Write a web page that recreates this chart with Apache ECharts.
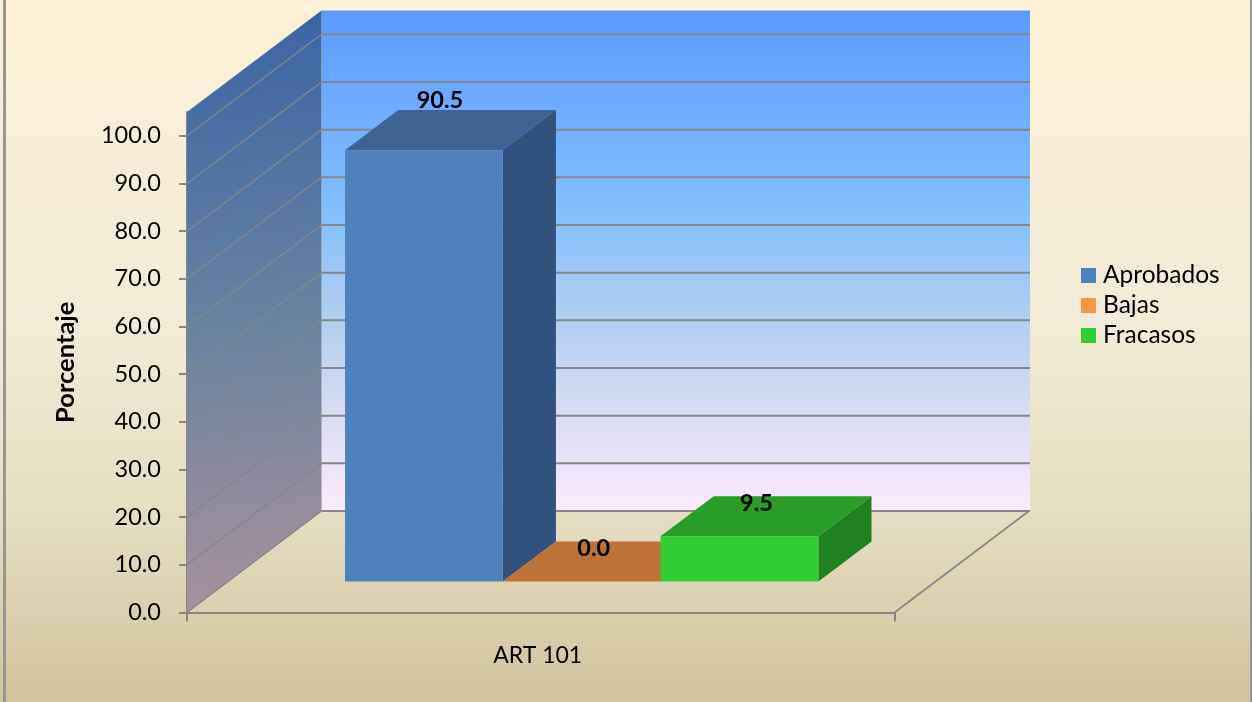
<!DOCTYPE html>
<html><head><meta charset="utf-8">
<style>html,body{margin:0;padding:0;background:#fff}#c{width:1252px;height:702px}</style>
<script src="https://cdn.jsdelivr.net/npm/echarts@6/dist/echarts.min.js"></script>
</head><body><div id="c"></div>
<script>
const categories = ['ART 101'];
const seriesNames = ['Aprobados', 'Bajas', 'Fracasos'];
const aprobados = [90.5];
const bajas = [0.0];
const fracasos = [9.5];
const yTicks = [0, 10, 20, 30, 40, 50, 60, 70, 80, 90, 100];
const wallTop = 105;

const GRID = '#868686', FONT = 'Lato';
const DX = 134.5, DY = -101.5;           // full floor depth in pixels
const BAR_NEAR = 0.305, BAR_FAR = 0.7;   // depth span of the bars
const GAP = 0.1654, SLOT = 0.223;        // bar slots on the hidden 0..1 x axis
const faces = [
  {front: '#4f81bd', side: '#30527c', top: '#3d6494', legend: '#4f81bd', lx: 16, ly: 49.5},
  {front: '#f79646', side: '#b96f33', top: '#bd7337', legend: '#f79646', lx: 12, ly: 33.5},
  {front: '#32cd32', side: '#20821f', top: '#289d28', legend: '#32cd32', lx: 17, ly: 32.5}
];
const shift = (p, d) => [p[0] + DX * d, p[1] + DY * d];
const poly = (points, fill) => ({type: 'polygon', shape: {points}, style: {fill}});
const line = (a, b, w) => ({type: 'line', shape: {x1: a[0], y1: a[1], x2: b[0], y2: b[1]},
  style: {stroke: GRID, lineWidth: w}});

function renderWalls(params, api) {
  const c = (x, y) => api.coord([x, y]);
  const fl = c(0, 0), tl = c(0, wallTop), fr = c(1, 0);
  const children = [
    {type: 'polygon', shape: {points: [shift(tl, 1), [shift(fr, 1)[0] + 1, shift(tl, 1)[1]], [shift(fr, 1)[0] + 1, shift(fr, 1)[1]], shift(fl, 1)]},
      style: {fill: {type: 'linear', x: 0, y: 0, x2: 0, y2: 1, colorStops: [
        {offset: 0, color: '#5b9bff'}, {offset: 0.4, color: '#82bfff'},
        {offset: 0.6, color: '#afcdf0'}, {offset: 0.8, color: '#d8dcf2'}, {offset: 1, color: '#fceafe'}]}}},
    {type: 'polygon', shape: {points: [tl, shift(tl, 1), shift(fl, 1), fl]},
      style: {fill: {type: 'linear', x: 0, y: 0, x2: 0.45, y2: 1, colorStops: [
        {offset: 0, color: '#3a63a6'}, {offset: 0.5, color: '#66829f'}, {offset: 1, color: '#a8919d'}]}}}
  ];
  yTicks.forEach(v => {
    const p = c(0, v), b = shift(p, 1);
    children.push(line(p, b, 1.3));
    if (v > 0) children.push(line(b, [shift(fr, 1)[0] + 1, b[1]], 2));
  });
  children.push(line(shift(fl, 1), [shift(fr, 1)[0] + 1, shift(fl, 1)[1]], 2));
  children.push(line(fr, shift(fr, 1), 1.6));
  return {type: 'group', children};
}

function renderBar(idx) {
  return function (params, api) {
    const v = api.value(1), x0 = GAP + SLOT * idx, x1 = x0 + SLOT, f = faces[idx];
    const a = shift(api.coord([x0, 0]), BAR_NEAR), b = shift(api.coord([x1, 0]), BAR_NEAR);
    const d = shift(api.coord([x0, v]), BAR_NEAR), e = shift(api.coord([x1, v]), BAR_NEAR);
    const span = BAR_FAR - BAR_NEAR;
    const children = [
      poly([b, e, shift(e, span), shift(b, span)], f.side),
      poly([d, e, shift(e, span), shift(d, span)], f.top),
      poly([a, b, e, d], f.front),
      {type: 'text', z2: 50, style: {text: v.toFixed(1), x: (d[0] + e[0]) / 2 + f.lx, y: d[1] - f.ly,
        align: 'center', verticalAlign: 'middle', font: 'bold 23.5px ' + FONT, fill: '#000'}}
    ];
    return {type: 'group', children};
  };
}

const barSeries = [aprobados, bajas, fracasos].map((vals, i) => ({
  name: seriesNames[i], type: 'custom', xAxisIndex: 1, yAxisIndex: 0, z: 10 + (i === 1 ? 0 : i),
  encode: {x: 0, y: 1}, renderItem: renderBar(i), silent: true,
  itemStyle: {color: faces[i].legend},
  data: vals.map(v => [GAP + SLOT * (i + 0.5), v])
}));

const chart = echarts.init(document.getElementById('c'), null, {renderer: 'canvas'});
chart.setOption({
  animation: false,
  backgroundColor: {type: 'linear', x: 0, y: 0, x2: 0, y2: 1, colorStops: [
    {offset: 0, color: '#fcf0d7'}, {offset: 0.45, color: '#f3ebd7'},
    {offset: 0.72, color: '#e6dfc3'}, {offset: 1, color: '#d1c39d'}]},
  grid: {left: 187, top: 112, width: 707.5, height: 500.5},
  legend: {data: seriesNames, left: 1076, top: 257, orient: 'vertical', icon: 'rect',
    itemWidth: 15, itemHeight: 15, itemGap: 3,
    textStyle: {fontFamily: FONT, fontSize: 24.5, color: '#000', padding: [0, 0, 0, 2], height: 27, lineHeight: 27}},
  xAxis: [
    {type: 'category', data: categories, position: 'bottom',
      axisLine: {lineStyle: {color: GRID, width: 2}},
      axisTick: {show: true, length: 9, lineStyle: {color: GRID, width: 2}},
      axisLabel: {fontFamily: FONT, fontSize: 23, color: '#000', margin: 32, padding: [0, 6, 0, 0]}},
    {type: 'value', min: 0, max: 1, show: false}
  ],
  yAxis: [{type: 'value', min: 0, max: wallTop,
    name: 'Porcentaje', nameLocation: 'middle', nameGap: 108, nameRotate: 90,
    nameTextStyle: {fontFamily: FONT, fontSize: 25.5, fontWeight: 'bold', color: '#000'},
    axisLine: {show: true, lineStyle: {color: GRID, width: 2}},
    axisTick: {show: true, length: 8, customValues: yTicks, lineStyle: {color: GRID, width: 2}},
    axisLabel: {customValues: yTicks, fontFamily: FONT, fontSize: 23.5, color: '#000', margin: 26, padding: [2, 0, 0, 0],
      formatter: v => v.toFixed(1)},
    splitLine: {show: false}}],
  graphic: [
    {type: 'rect', shape: {x: 3, y: 0, width: 3, height: 702}, style: {fill: '#969696'}, silent: true},
    {type: 'rect', shape: {x: 1250, y: 0, width: 2, height: 702}, style: {fill: '#969696'}, silent: true}
  ],
  series: [
    {type: 'custom', name: 'walls', xAxisIndex: 1, yAxisIndex: 0, z: 1, silent: true,
      encode: {x: 0, y: 1}, renderItem: renderWalls, data: [[0, 0]]},
    ...barSeries
  ]
});
</script></body></html>
